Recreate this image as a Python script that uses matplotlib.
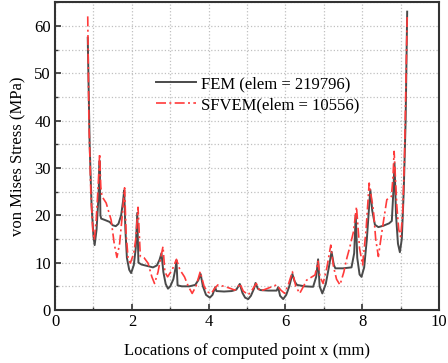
import matplotlib.pyplot as plt
from matplotlib.ticker import MultipleLocator

plt.rcParams['font.family'] = ['Liberation Serif', 'DejaVu Serif']
plt.rcParams['mathtext.fontset'] = 'stix'

# FEM curve (elem = 219796)
fem_x = [0.85, 0.9, 0.95, 1.0, 1.03, 1.08, 1.13, 1.16, 1.18, 1.2, 1.3, 1.42, 1.5, 1.58,
         1.65, 1.72, 1.77, 1.8, 1.83, 1.87, 1.93, 1.98, 2.05, 2.1, 2.14, 2.17, 2.25, 2.4,
         2.55, 2.65, 2.72, 2.77, 2.82, 2.88, 2.94, 3.0, 3.08, 3.14, 3.16, 3.19, 3.3, 3.5,
         3.65, 3.73, 3.79, 3.85, 3.93, 4.03, 4.1, 4.17, 4.2, 4.4, 4.6, 4.72, 4.81, 4.88,
         4.95, 5.03, 5.1, 5.18, 5.22, 5.28, 5.35, 5.55, 5.77, 5.81, 5.86, 5.94, 6.02, 6.1,
         6.18, 6.24, 6.3, 6.5, 6.72, 6.8, 6.85, 6.89, 6.96, 7.05, 7.13, 7.2, 7.26, 7.3,
         7.5, 7.72, 7.79, 7.83, 7.87, 7.93, 7.98, 8.05, 8.12, 8.18, 8.21, 8.26, 8.33, 8.42,
         8.55, 8.7, 8.77, 8.81, 8.84, 8.88, 8.93, 8.98, 9.03, 9.08, 9.13, 9.17]
fem_y = [57.5, 35, 22, 15.5, 13.7, 17, 24, 31.5, 20, 19.3, 19, 18.6, 17.9, 17.7,
         18.2, 20, 23, 25.3, 17, 11, 8.5, 7.8, 9.5, 13, 20.5, 10, 9.6, 9.3,
         9.0, 9.4, 10.6, 12, 8, 5.5, 4.5, 5, 6.5, 9, 10.5, 5.2, 5, 5,
         5.3, 6.3, 7.6, 5, 3.2, 2.6, 3.2, 4.8, 4.0, 3.9, 4.0, 4.3, 5.5, 3.6,
         2.6, 2.3, 3.0, 4.5, 5.7, 4.5, 4.2, 4.1, 4.1, 4.8, 3.0, 2.3, 3.2, 5,
         7.6, 6.0, 5.3, 5.0, 4.9, 7, 10.7, 5, 3.5, 5.5, 9, 12.3, 9.5, 8.8,
         8.8, 9.0, 12, 20.1, 11, 7.5, 7.0, 9, 15, 22, 25.4, 21, 18, 17.5,
         17.8, 18.3, 18.8, 25, 31, 20, 14, 12.2, 15, 25, 40, 63]

# SFVEM curve (elem = 10556)
sf_x = [0.85, 0.88, 0.93, 0.98, 1.02, 1.07, 1.12, 1.16, 1.19, 1.22, 1.33, 1.46, 1.54, 1.61,
        1.68, 1.75, 1.81, 1.85, 1.9, 1.96, 2.05, 2.1, 2.16, 2.22, 2.32, 2.42, 2.52, 2.59,
        2.68, 2.75, 2.81, 2.86, 2.93, 3.05, 3.16, 3.25, 3.37, 3.47, 3.57, 3.67, 3.78, 3.88,
        3.97, 4.07, 4.15, 4.24, 4.4, 4.55, 4.68, 4.76, 4.81, 4.9, 5.03, 5.13, 5.24, 5.33,
        5.45, 5.64, 5.77, 5.88, 5.98, 6.08, 6.18, 6.27, 6.37, 6.47, 6.55, 6.77, 6.85, 6.9,
        6.98, 7.08, 7.18, 7.25, 7.33, 7.42, 7.52, 7.6, 7.68, 7.77, 7.85, 7.93, 8.01, 8.1,
        8.18, 8.29, 8.35, 8.42, 8.52, 8.64, 8.76, 8.8, 8.83, 8.9, 8.95, 9.0, 9.05, 9.1, 9.17]
sf_y = [62, 40, 25, 17, 14.8, 19, 26, 33, 26, 24, 22.6, 19, 14, 11.1,
        14, 20, 25.8, 16, 11, 9.9, 12, 15, 21.7, 11.3, 11, 9.9, 7, 5.6,
        8, 11, 13.4, 8, 7, 8.5, 10.7, 8.5, 7, 5, 3.5, 5, 8.1, 5,
        3.8, 3.5, 4.5, 5.3, 5.0, 4.6, 4.2, 4.8, 5.6, 4.0, 3.2, 4.2, 5.6, 4.0,
        4.3, 4.9, 5.3, 4.2, 3.5, 5.5, 8.1, 5, 3.5, 5, 6.3, 7.4, 10.3, 7,
        5.6, 9, 13.7, 9.2, 6.5, 5.3, 8, 11, 13.4, 16.5, 21.8, 13, 9.5, 17,
        26.8, 21.1, 15, 11.3, 17, 23.3, 24, 28, 33.5, 22, 17, 15.5, 20, 32, 62]

fig = plt.figure(figsize=(4.48, 3.63), dpi=100)
ax = fig.add_axes([0.123, 0.146, 0.857, 0.848])

ax.plot(fem_x, fem_y, color='#4a4a4a', lw=1.4, label='FEM (elem = 219796)', zorder=3)
ax.plot(sf_x, sf_y, color='#ff3b3b', lw=1.2, dashes=(6, 2, 1.2, 2),
        label='SFVEM(elem = 10556)', zorder=4)

ax.set_xlim(0, 10)
ax.set_ylim(0, 65)
ax.xaxis.set_major_locator(MultipleLocator(2))
ax.xaxis.set_minor_locator(MultipleLocator(1))
ax.yaxis.set_major_locator(MultipleLocator(10))
ax.yaxis.set_minor_locator(MultipleLocator(5))
ax.grid(True, which='both', ls=':', color='#c0c0c0', lw=0.9, zorder=0)

for s in ax.spines.values():
    s.set_linewidth(1.5)
    s.set_color('#333333')
ax.tick_params(which='major', direction='in', length=4, width=1.2, color='#333333',
               labelsize=12, top=False, right=False, pad=3)
ax.tick_params(which='minor', direction='in', length=2.5, width=1, color='#333333',
               top=False, right=False)

ax.set_xlabel('Locations of computed point x (mm)', fontsize=12, labelpad=9)
ax.set_ylabel('von Mises Stress (MPa)', fontsize=12, labelpad=6)

ax.legend(loc='center left', bbox_to_anchor=(0.225, 0.70), frameon=False, fontsize=12,
          handlelength=2.4, handletextpad=0.3, labelspacing=0.3)

fig.savefig('out.png', dpi=100)
